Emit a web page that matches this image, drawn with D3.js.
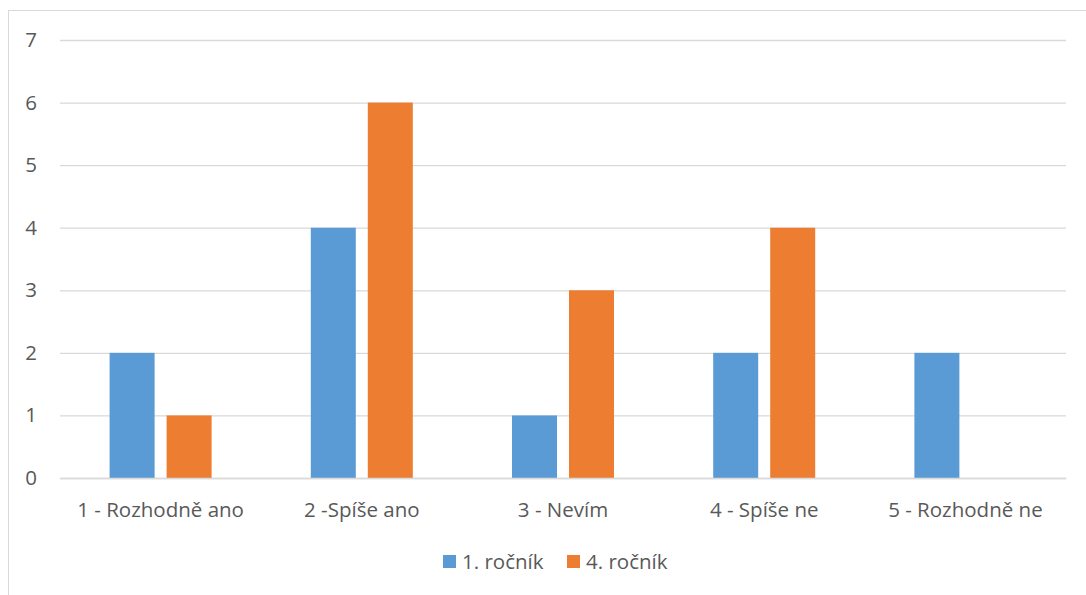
<!DOCTYPE html>
<html>
<head>
<meta charset="utf-8">
<script src="https://cdn.jsdelivr.net/npm/d3@7"></script>
<style>
  html, body { margin: 0; padding: 0; background: #fff; }
  svg { display: block; font-family: "Open Sans", sans-serif; }
</style>
</head>
<body>
<svg id="chart" width="1086" height="595"></svg>
<script>
const categories = ["1 - Rozhodně ano", "2 -Spíše ano", "3 - Nevím", "4 - Spíše ne", "5 - Rozhodně ne"];
const seriesNames = ["1. ročník", "4. ročník"];
const firstYear = [2, 4, 1, 2, 2];
const fourthYear = [1, 6, 3, 4, 0];
const yTicks = [0, 1, 2, 3, 4, 5, 6, 7];
const colors = ["#5b9bd5", "#ed7d31"];
const font = "'Open Sans', sans-serif";
const fontSize = 20.5;

const svg = d3.select("#chart");
const plot = { left: 60, right: 1066, top: 40, bottom: 478 };

// chart frame
svg.append("rect")
  .attr("x", 8.5).attr("y", 10.5)
  .attr("width", 1090).attr("height", 600)
  .attr("fill", "none").attr("stroke", "#d9d9d9").attr("stroke-width", 1);

const x0 = d3.scaleBand().domain(categories)
  .range([plot.left, plot.right])
  .paddingInner(0.493).paddingOuter(0.2465);
const x1 = d3.scaleBand().domain(seriesNames)
  .range([0, x0.bandwidth()]).paddingInner(0.2105);
const y = d3.scaleLinear().domain([0, 7]).range([plot.bottom, plot.top]);

// gridlines
const yAxis = d3.axisLeft(y).tickValues(yTicks).tickFormat(d3.format("d"))
  .tickSize(-(plot.right - plot.left)).tickPadding(23);
const gy = svg.append("g").attr("transform", `translate(${plot.left},0)`).call(yAxis);
gy.select(".domain").remove();
gy.selectAll(".tick line").attr("stroke", "#d9d9d9").attr("stroke-width", 1.3);
gy.selectAll(".tick text").attr("fill", "#595959").attr("font-size", fontSize).attr("font-family", font);

// bars
const rows = categories.map((c, i) => ({ cat: c, values: [firstYear[i], fourthYear[i]] }));
const groups = svg.append("g").selectAll("g").data(rows).join("g")
  .attr("transform", d => `translate(${x0(d.cat)},0)`);
groups.selectAll("rect")
  .data(d => d.values.map((v, k) => ({ name: seriesNames[k], v, k })))
  .join("rect")
  .attr("x", d => x1(d.name))
  .attr("width", x1.bandwidth())
  .attr("y", d => y(d.v))
  .attr("height", d => y(0) - y(d.v))
  .attr("fill", d => colors[d.k]);

// category axis
const xAxis = d3.axisBottom(x0).tickSize(0).tickPadding(24);
const gx = svg.append("g").attr("transform", `translate(0,${plot.bottom})`).call(xAxis);
gx.select(".domain").attr("stroke", "#d9d9d9").attr("stroke-width", 1.3);
gx.selectAll(".tick text").attr("fill", "#595959").attr("font-size", fontSize).attr("font-family", font);

// legend
const legendItems = [{ name: seriesNames[0], x: 443 }, { name: seriesNames[1], x: 567 }];
const lg = svg.append("g");
legendItems.forEach((d, i) => {
  lg.append("rect").attr("x", d.x).attr("y", 555).attr("width", 13).attr("height", 13).attr("fill", colors[i]);
  lg.append("text").attr("x", d.x + 19).attr("y", 569)
    .attr("fill", "#595959").attr("font-size", fontSize).attr("font-family", font).text(d.name);
});
</script>
</body>
</html>
